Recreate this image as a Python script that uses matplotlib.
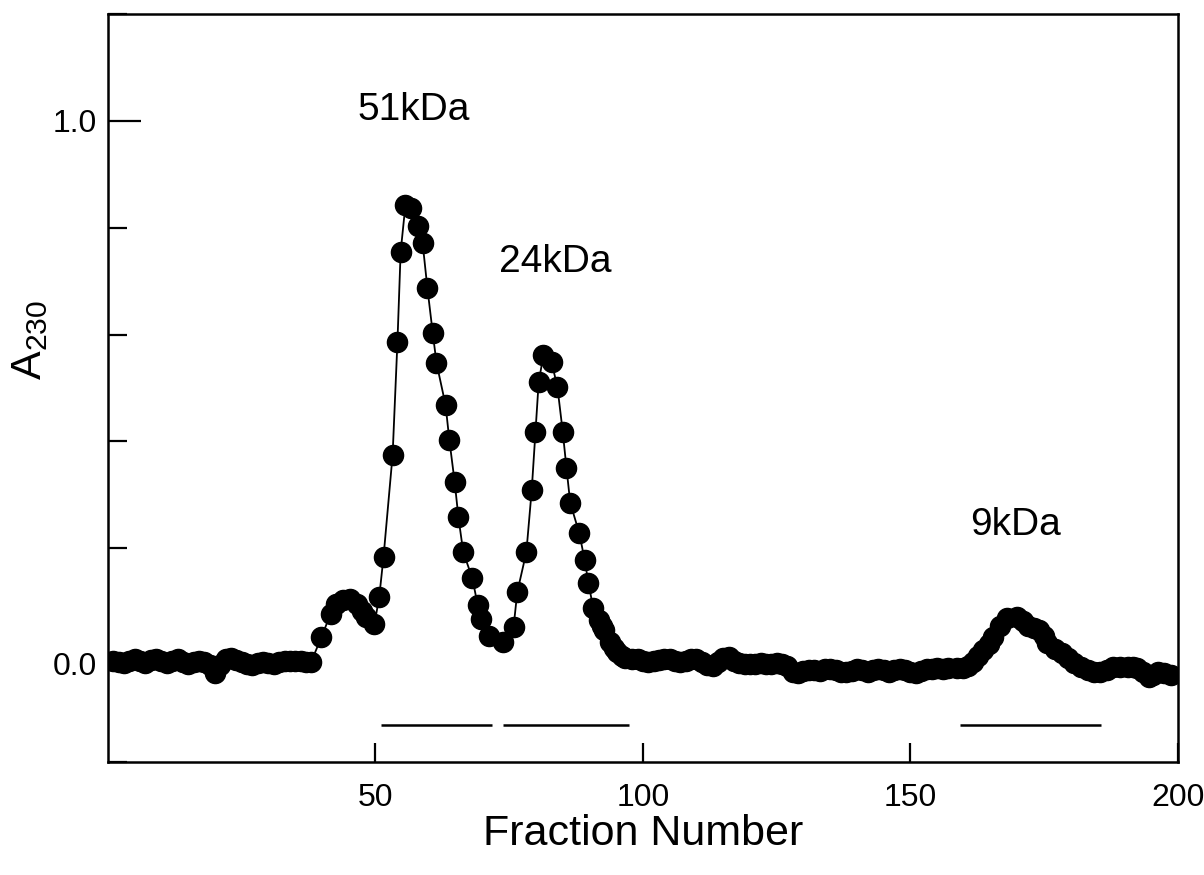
import numpy as np
import matplotlib
matplotlib.use("Agg")
import matplotlib.pyplot as plt
from matplotlib.ticker import MultipleLocator
from matplotlib.transforms import ScaledTranslation

# elution profile (fraction number, A230)
fraction = [1, 2, 3, 4, 5, 6, 7, 8, 9, 10, 11, 12, 13, 14, 15, 16, 17, 18, 19, 20,
            21, 22, 23, 24, 25, 26, 27, 28, 29, 30, 31, 32, 33, 34, 35, 36, 37, 38,
            39.9, 41.6, 42.7, 43.9, 45.3, 46.6, 47.5, 48.3, 49.8, 50.7, 51.5, 53.2,
            54.1, 54.7, 55.6, 56.7, 57.9, 58.8, 59.7, 60.7, 61.4, 63.1, 63.8, 64.8,
            65.5, 66.4, 68.1, 69.1, 69.8, 71.3, 73.9, 75.8, 76.5, 78.2, 79.2, 79.9,
            80.5, 81.4, 82.9, 84.0, 85.0, 85.7, 86.4, 88.1, 89.1, 89.8, 90.7, 91.7,
            92.3, 92.8, 93.9, 94.6, 95.2, 96.0, 96.7, 98.0,
            99, 100, 101, 102, 103, 104, 105, 106, 107, 108, 109, 110, 111, 112, 113,
            114, 115, 116, 117, 118, 119, 120, 121, 122, 123, 124, 125, 126, 127, 128,
            129, 130, 131, 132, 133, 134, 135, 136, 137, 138, 139, 140, 141, 142, 143,
            144, 145, 146, 147, 148, 149, 150, 151, 152, 153, 154, 155, 156, 157,
            158.7, 159.9, 160.8, 161.6, 162.6, 163.6, 164.6, 165.5, 166.8, 168.1,
            170.0, 171.0, 171.9, 173.0, 174.1, 174.9, 175.6, 177.0, 178.4, 179.5,
            180.5, 181.8, 183.1, 184.3, 185.5, 186.7, 187.9, 189.2, 190.6, 191.5,
            192.4, 193.5, 194.5, 195.3, 196.2, 197.4, 198.6]

a230 = [-0.010, -0.012, -0.015, -0.010, -0.008, -0.010, -0.014, -0.009, -0.007, -0.010,
        -0.015, -0.011, -0.008, -0.012, -0.016, -0.012, -0.010, -0.012, -0.018, -0.034,
        -0.018, -0.008, -0.005, -0.009, -0.013, -0.017, -0.018, -0.014, -0.012, -0.015,
        -0.017, -0.013, -0.010, -0.011, -0.011, -0.010, -0.012, -0.012,
        0.034, 0.077, 0.095, 0.103, 0.105, 0.096, 0.082, 0.071, 0.058, 0.109, 0.184, 0.375,
        0.586, 0.755, 0.843, 0.837, 0.803, 0.772, 0.687, 0.603, 0.547, 0.468, 0.403, 0.324,
        0.258, 0.193, 0.144, 0.094, 0.067, 0.036, 0.024, 0.052, 0.118, 0.193, 0.309, 0.418,
        0.511, 0.562, 0.549, 0.502, 0.418, 0.350, 0.285, 0.228, 0.178, 0.135, 0.088, 0.066,
        0.055, 0.047, 0.024, 0.014, 0.006, -0.001, -0.006, -0.008,
        -0.008, -0.011, -0.012, -0.011, -0.009, -0.008, -0.007, -0.010, -0.012, -0.011,
        -0.008, -0.007, -0.012, -0.019, -0.020, -0.012, -0.006, -0.004, -0.010, -0.015,
        -0.016, -0.016, -0.016, -0.015, -0.016, -0.016, -0.015, -0.016, -0.020, -0.032,
        -0.034, -0.030, -0.028, -0.027, -0.029, -0.026, -0.025, -0.028, -0.032, -0.032,
        -0.029, -0.026, -0.028, -0.032, -0.027, -0.025, -0.028, -0.032, -0.028, -0.025,
        -0.028, -0.031, -0.034, -0.030, -0.026, -0.025, -0.024, -0.025, -0.024,
        -0.024, -0.024, -0.020, -0.013, -0.002, 0.009, 0.020, 0.034, 0.055, 0.069,
        0.071, 0.064, 0.054, 0.050, 0.047, 0.035, 0.022, 0.012, 0.004, -0.006,
        -0.015, -0.022, -0.028, -0.031, -0.032, -0.028, -0.022, -0.022, -0.022, -0.022,
        -0.024, -0.032, -0.041, -0.037, -0.032, -0.034, -0.037]

# pooled fractions (bars under the peaks)
pool_start = [51.1, 73.9, 159.3]
pool_end = [71.7, 97.3, 185.7]
pool_level = -0.131

peak_labels = ["51kDa", "24kDa", "9kDa"]
label_x = [57.1, 83.6, 169.6]
label_y = [1.02, 0.736, 0.243]

plt.rcParams["font.family"] = ["Liberation Sans", "DejaVu Sans"]
plt.rcParams["mathtext.default"] = "regular"

fig = plt.figure(figsize=(12.04, 8.75), dpi=100)
ax = fig.add_axes([0.0897, 0.1291, 0.8887, 0.8549])

ax.plot(fraction, a230, color="black", lw=1.3, marker="o", ms=14.5,
        mfc="black", mec="black", zorder=3)

ax.hlines([pool_level] * len(pool_start), pool_start, pool_end, color="black", lw=1.8)

for lab, x, y in zip(peak_labels, label_x, label_y):
    ax.text(x, y, lab, fontsize=28, ha="center", va="center")

ax.set_xlim(0, 200)
ax.set_ylim(-0.2, 1.2)
ax.set_xticks([50, 100, 150, 200])
ax.set_yticks([0.0, 1.0])
ax.set_yticklabels(["0.0", "1.0"])
ax.yaxis.set_minor_locator(MultipleLocator(0.2))

ax.tick_params(axis="x", which="major", direction="in", length=13.5, width=1.6,
               labelsize=23, pad=15, top=False)
ax.tick_params(axis="y", which="major", direction="in", length=24, width=1.6,
               labelsize=23, pad=8, right=False)
ax.tick_params(axis="y", which="minor", direction="in", length=13.5, width=1.6, right=False)

# the 0.0 label sits a little below its tick in the original
zero_lab = ax.get_yticklabels()[0]
zero_lab.set_transform(zero_lab.get_transform() + ScaledTranslation(0, -0.08, fig.dpi_scale_trans))

for sp in ax.spines.values():
    sp.set_linewidth(1.8)

ax.set_xlabel("Fraction Number", fontsize=31, va="top")
ax.xaxis.set_label_coords(0.5, -0.069)
ax.set_ylabel("$A_{230}$", fontsize=31, va="center")
ax.yaxis.set_label_coords(-0.073, 0.564)

fig.savefig("out.png", dpi=100)
